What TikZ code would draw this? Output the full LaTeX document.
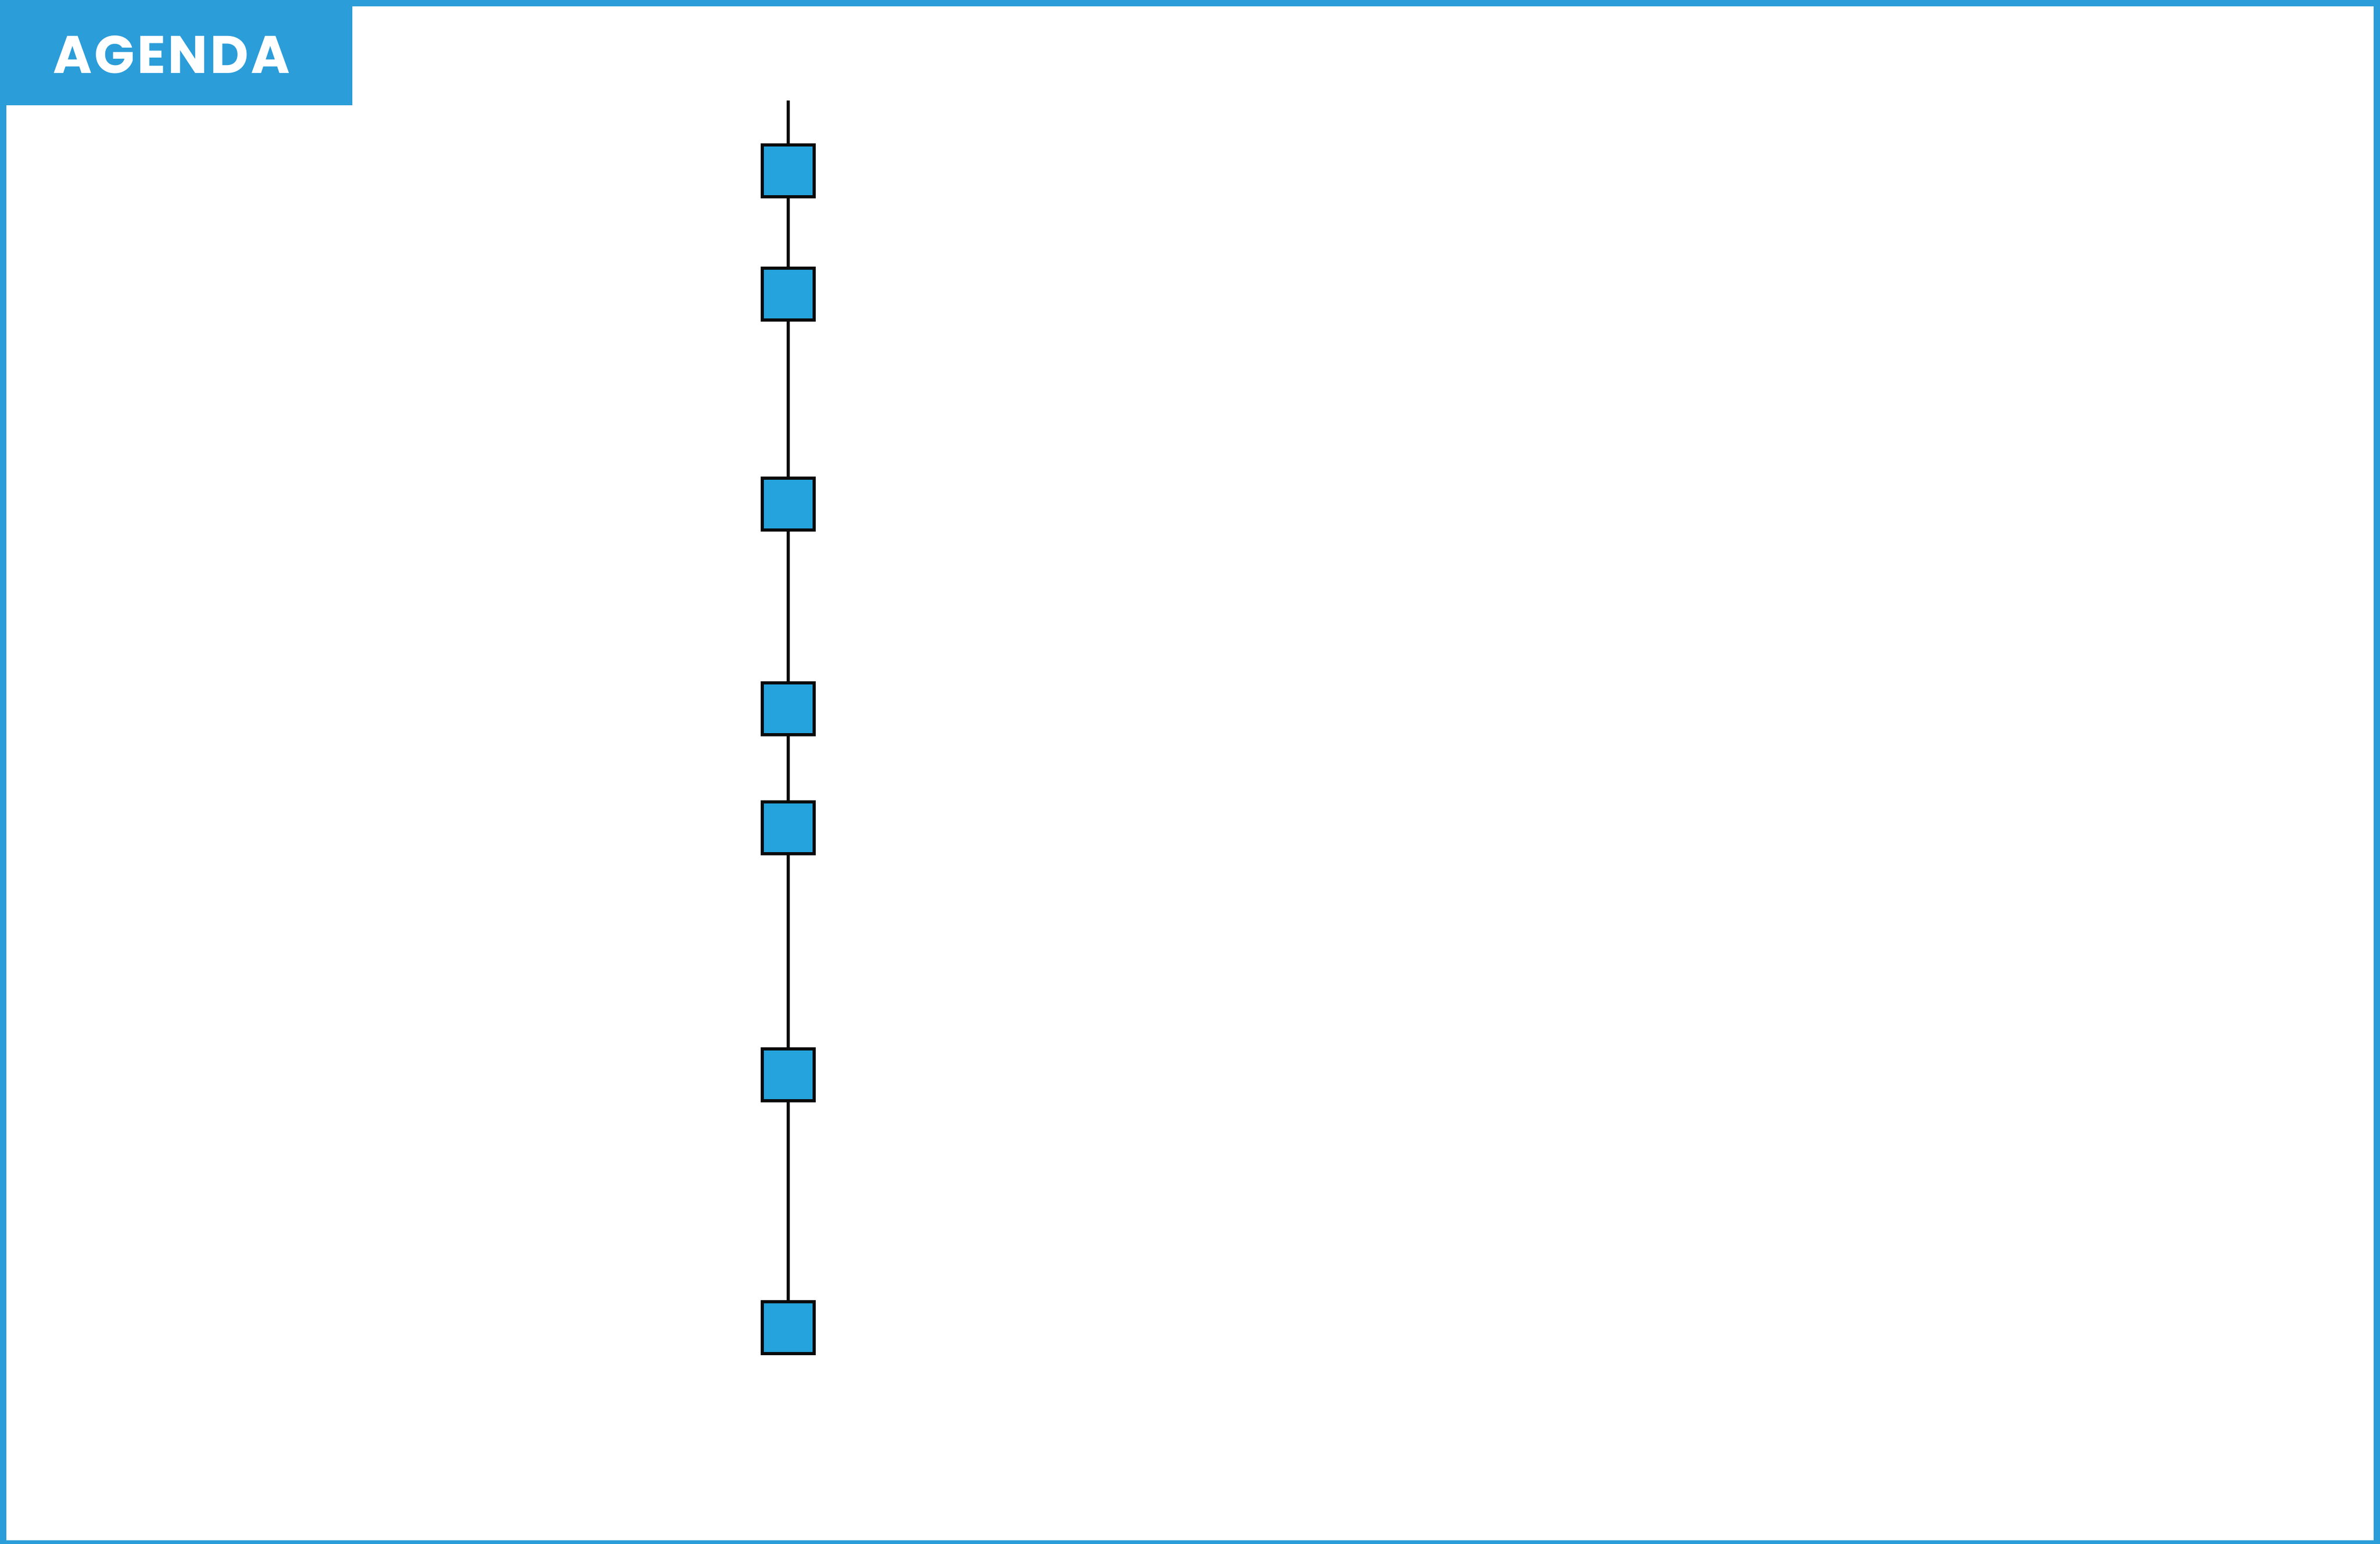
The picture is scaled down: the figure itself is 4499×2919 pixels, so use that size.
\documentclass[tikz,border=0pt]{standalone}
\usepackage{fontspec}
\newfontfamily\headfont{Poppins}[UprightFont=* Bold,LetterSpace=4.5]
\definecolor{frameblue}{HTML}{2B9DD9}
\definecolor{boxblue}{HTML}{25A3DC}
\definecolor{ink}{HTML}{0A0A0A}
\begin{document}
\begin{tikzpicture}[x=1pt,y=-1pt,
  stepbox/.style={draw=ink,fill=boxblue,line width=6pt,minimum size=98pt,inner sep=0pt},
  link/.style={draw=ink,line width=6pt}]
\useasboundingbox (0,0) rectangle (4499,2919);
% frame
\fill[frameblue] (0,0) rectangle (4499,2919);
\fill[white] (12,12) rectangle (4487,2912);
% header
\fill[frameblue] (0,0) rectangle (666,199);
\node[anchor=base west,inner sep=0pt,text=white,font=\headfont\fontsize{100}{100}\selectfont] (title) at (100,139) {AGENDA};
% timeline
\coordinate (top) at (1489.5,190);
\node[stepbox] (s1) at (1489.5,323) {};
\node[stepbox] (s2) at (1489.5,556) {};
\node[stepbox] (s3) at (1489.5,953) {};
\node[stepbox] (s4) at (1489.5,1340) {};
\node[stepbox] (s5) at (1489.5,1565) {};
\node[stepbox] (s6) at (1489.5,2032) {};
\node[stepbox] (s7) at (1489.5,2510) {};
\draw[link] (top) -- (s1) -- (s2) -- (s3) -- (s4) -- (s5) -- (s6) -- (s7);
\end{tikzpicture}
\end{document}
